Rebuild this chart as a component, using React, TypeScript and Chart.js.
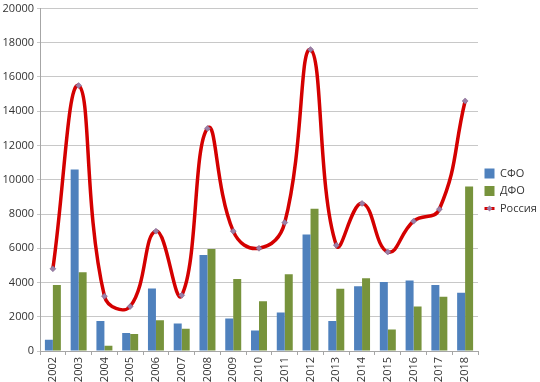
import React, { useEffect, useRef } from "react";
import { Chart, registerables } from "chart.js";

Chart.register(...registerables);

const years = ["2002","2003","2004","2005","2006","2007","2008","2009","2010","2011","2012","2013","2014","2015","2016","2017","2018"];
const sfo = [650, 10600, 1750, 1050, 3650, 1600, 5600, 1900, 1200, 2250, 6800, 1750, 3780, 4030, 4120, 3850, 3400];
const dfo = [3850, 4600, 300, 1000, 1800, 1300, 5950, 4200, 2900, 4480, 8300, 3640, 4250, 1260, 2600, 3170, 9600];
const russia = [4800, 15500, 3200, 2600, 7000, 3250, 13000, 7000, 6000, 7500, 17600, 6180, 8620, 5780, 7580, 8280, 14600];

const FONT = "'Open Sans', 'Liberation Sans', sans-serif";
const LINE_COLOR = "#D40000";
const MARKER_COLOR = "#9B7FA6";
const LEGEND_WIDTH = 62;

const legendWidthFix = {
  id: "legendWidthFix",
  afterInit(chart: any) {
    const legend = chart.legend;
    if (!legend || legend.__patched) return;
    const orig = legend.fit.bind(legend);
    legend.fit = function () {
      orig();
      this.width = LEGEND_WIDTH;
    };
    legend.__patched = true;
  },
};

const legendDiamond = {
  id: "legendDiamond",
  afterDraw(chart: any) {
    const legend = chart.legend;
    if (!legend || !legend.legendHitBoxes) return;
    const items = legend.legendItems || [];
    items.forEach((it: any, i: number) => {
      if (it.datasetIndex !== 2) return;
      const hb = legend.legendHitBoxes[i];
      if (!hb) return;
      const cx = hb.left + 5;
      const cy = hb.top + hb.height / 2;
      const ctx = chart.ctx;
      ctx.save();
      ctx.fillStyle = MARKER_COLOR;
      ctx.beginPath();
      ctx.moveTo(cx, cy - 3);
      ctx.lineTo(cx + 3, cy);
      ctx.lineTo(cx, cy + 3);
      ctx.lineTo(cx - 3, cy);
      ctx.closePath();
      ctx.fill();
      ctx.restore();
    });
  },
};

export default function App() {
  const ref = useRef<HTMLCanvasElement | null>(null);
  useEffect(() => {
    if (!ref.current) return;
    const chart = new Chart(ref.current, {
      type: "bar",
      data: {
        labels: years,
        datasets: [
          {
            type: "bar",
            label: "СФО",
            data: sfo,
            backgroundColor: "#4F81BD",
            order: 2,
          },
          {
            type: "bar",
            label: "ДФО",
            data: dfo,
            backgroundColor: "#77933C",
            order: 2,
          },
          {
            type: "line",
            label: "Россия",
            data: russia,
            borderColor: LINE_COLOR,
            backgroundColor: LINE_COLOR,
            borderWidth: 3.5,
            tension: 0.45,
            pointStyle: "rectRot",
            pointRadius: 3,
            pointBackgroundColor: MARKER_COLOR,
            pointBorderColor: "#7A5C88",
            pointBorderWidth: 0.5,
            order: 0,
          } as any,
        ],
      },
      options: {
        animation: false,
        responsive: true,
        maintainAspectRatio: false,
        datasets: { bar: { categoryPercentage: 0.62, barPercentage: 1 } },
        layout: { padding: { top: 0, right: 0, left: 0, bottom: 0 } },
        plugins: {
          tooltip: { enabled: false },
          legend: {
            position: "right",
            labels: {
              font: { family: FONT, size: 11, lineHeight: 1.2 },
              color: "#333",
              boxWidth: 10,
              boxHeight: 10,
              padding: 6.5,
              usePointStyle: true,
              pointStyleWidth: 10,
              sort: (a: any, b: any) => a.datasetIndex - b.datasetIndex,
              generateLabels: (ch: any) => {
                const base = Chart.defaults.plugins.legend.labels.generateLabels(ch);
                return base.map((l: any) => {
                  if (l.datasetIndex === 2) {
                    return { ...l, pointStyle: "line", lineWidth: 3, strokeStyle: LINE_COLOR, fillStyle: LINE_COLOR };
                  }
                  return { ...l, pointStyle: "rect", lineWidth: 0 };
                });
              },
            },
          },
        },
        scales: {
          x: {
            grid: { drawOnChartArea: false, drawTicks: true, tickLength: 4, offset: true, color: "#A6A6A6" },
            border: { color: "#A6A6A6" },
            ticks: {
              minRotation: 90,
              maxRotation: 90,
              font: { family: FONT, size: 11 },
              color: "#333",
              padding: 2,
            },
            afterFit: (s: any) => { s.height = 31; },
          } as any,
          y: {
            min: 0,
            max: 20000,
            ticks: {
              stepSize: 2000,
              font: { family: FONT, size: 11, lineHeight: 1 },
              color: "#333",
              padding: 3,
              callback: (v: any) => String(v),
            },
            grid: { color: "#C8C8C8", tickLength: 3 },
            border: { color: "#A6A6A6" },
            afterFit: (s: any) => { s.width = 40; },
          } as any,
        },
      },
      plugins: [legendWidthFix, legendDiamond],
    });
    return () => chart.destroy();
  }, []);
  return (
    <div style={{ position: "fixed", left: 0, top: 0, width: 540, height: 382, background: "#fff" }}>
      <canvas ref={ref} />
    </div>
  );
}
